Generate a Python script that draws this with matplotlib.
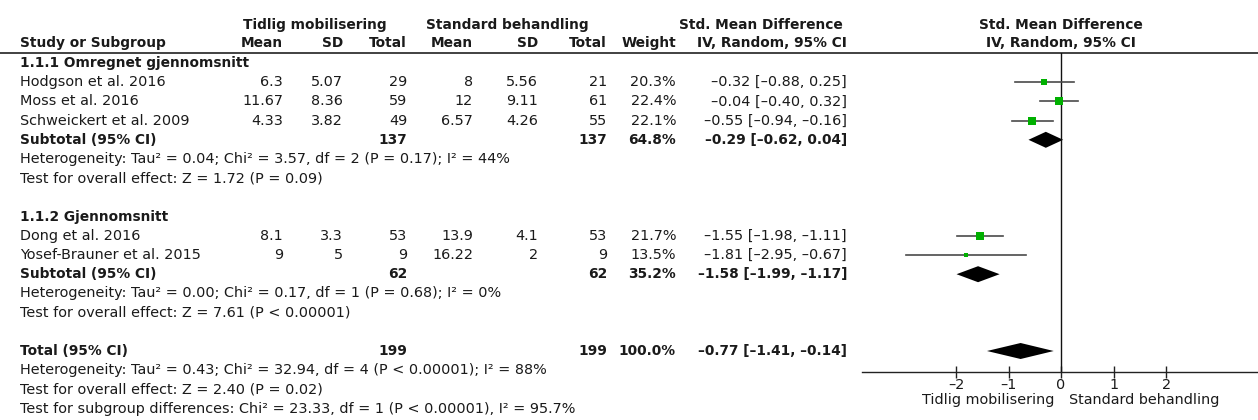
import matplotlib
matplotlib.use("Agg")
import matplotlib.pyplot as plt

# study level data
study = ["Hodgson et al. 2016", "Moss et al. 2016", "Schweickert et al. 2009",
         "Dong et al. 2016", "Yosef-Brauner et al. 2015"]
group = [0, 0, 0, 1, 1]
mean_e = [6.3, 11.67, 4.33, 8.1, 9]
sd_e = [5.07, 8.36, 3.82, 3.3, 5]
n_e = [29, 59, 49, 53, 9]
mean_c = [8, 12, 6.57, 13.9, 16.22]
sd_c = [5.56, 9.11, 4.26, 4.1, 2]
n_c = [21, 61, 55, 53, 9]
weight = [20.3, 22.4, 22.1, 21.7, 13.5]
smd = [-0.32, -0.04, -0.55, -1.55, -1.81]
ci_lo = [-0.88, -0.40, -0.94, -1.98, -2.95]
ci_hi = [0.25, 0.32, -0.16, -1.11, -0.67]

# subgroups
sub_name = ["1.1.1 Omregnet gjennomsnitt", "1.1.2 Gjennomsnitt"]
sub_n_e = [137, 62]
sub_n_c = [137, 62]
sub_weight = [64.8, 35.2]
sub_smd = [-0.29, -1.58]
sub_lo = [-0.62, -1.99]
sub_hi = [0.04, -1.17]
sub_het = ["Heterogeneity: Tau² = 0.04; Chi² = 3.57, df = 2 (P = 0.17); I² = 44%",
           "Heterogeneity: Tau² = 0.00; Chi² = 0.17, df = 1 (P = 0.68); I² = 0%"]
sub_test = ["Test for overall effect: Z = 1.72 (P = 0.09)",
            "Test for overall effect: Z = 7.61 (P < 0.00001)"]

# overall
tot_n_e = 199
tot_n_c = 199
tot_weight = 100.0
tot_smd = -0.77
tot_lo = -1.41
tot_hi = -0.14
tot_notes = ["Heterogeneity: Tau² = 0.43; Chi² = 32.94, df = 4 (P < 0.00001); I² = 88%",
             "Test for overall effect: Z = 2.40 (P = 0.02)",
             "Test for subgroup differences: Chi² = 23.33, df = 1 (P < 0.00001), I² = 95.7%"]

ticks = [-2, -1, 0, 1, 2]
left_label = "Tidlig mobilisering"
right_label = "Standard behandling"

# layout (pixels)
W, H = 1258, 420
FS = 10.4
FS_B = 9.9
TXT = "#1a1a1a"
col_x = [283, 343, 407, 473, 538, 607, 676, 847]
x_name = 20
y0, pitch = 63, 19.2
y_head1, y_head2, y_rule = 25, 43, 53
y_axis = 372
ax_left, ax_right = 862, 1258
xlim = (-3.79, 3.75)


def dash(s):
    return s.replace("-", "\u2013")


def ci_text(m, lo, hi):
    return dash(f"{m:.2f} [{lo:.2f}, {hi:.2f}]")


fig = plt.figure(figsize=(W / 100, H / 100), dpi=100)
tab = fig.add_axes([0, 0, 1, 1])
tab.set_xlim(0, W)
tab.set_ylim(H, 0)
tab.axis("off")

ax = fig.add_axes([ax_left / W, (H - y_axis) / H, (ax_right - ax_left) / W,
                   (y_axis - y_rule) / H])
ax.set_xlim(*xlim)
ax.set_ylim(y_axis, y_rule)
ax.patch.set_alpha(0)
for s in ["top", "right", "left"]:
    ax.spines[s].set_visible(False)
ax.spines["bottom"].set_linewidth(1.0)
ax.spines["bottom"].set_color("#222")
ax.set_yticks([])
ax.set_xticks(ticks)
ax.set_xticklabels([dash(str(t)) for t in ticks], fontsize=FS, color=TXT)
ax.tick_params(axis="x", direction="inout", length=8, width=1, pad=0, color="#222")
ax.axvline(0, color="#111", lw=1.0)
ax.text(-0.12, -0.088, left_label, transform=ax.get_xaxis_transform(),
        ha="right", va="center", fontsize=FS, color=TXT)
ax.text(0.15, -0.088, right_label, transform=ax.get_xaxis_transform(),
        ha="left", va="center", fontsize=FS, color=TXT)


def put(x, y, s, ha="right", bold=False):
    tab.text(x, y, s, ha=ha, va="center", fontsize=FS_B if bold else FS,
             color=TXT, fontweight="bold" if bold else "normal")


def diamond(y, m, lo, hi, h=8):
    ax.fill([lo, m, hi, m], [y, y - h, y, y + h], color="black", lw=0)


# header
put(315, y_head1, "Tidlig mobilisering", ha="center", bold=True)
put(507, y_head1, "Standard behandling", ha="center", bold=True)
put(843, y_head1, "Std. Mean Difference", bold=True)
put(1061, y_head1, "Std. Mean Difference", ha="center", bold=True)
put(x_name, y_head2, "Study or Subgroup", ha="left", bold=True)
for x, s in zip(col_x, ["Mean", "SD", "Total", "Mean", "SD", "Total", "Weight",
                        "IV, Random, 95% CI"]):
    put(x, y_head2, s, bold=True)
put(1061, y_head2, "IV, Random, 95% CI", ha="center", bold=True)
tab.axhline(y_rule, color="#333", lw=1.3)

row = 0
for g in range(len(sub_name)):
    y = y0 + row * pitch
    put(x_name, y, sub_name[g], ha="left", bold=True)
    row += 1
    for i in range(len(study)):
        if group[i] != g:
            continue
        y = y0 + row * pitch
        put(x_name, y, study[i], ha="left")
        vals = [f"{mean_e[i]:g}", f"{sd_e[i]:g}", str(n_e[i]),
                f"{mean_c[i]:g}", f"{sd_c[i]:g}", str(n_c[i]),
                f"{weight[i]:.1f}%", ci_text(smd[i], ci_lo[i], ci_hi[i])]
        for x, s in zip(col_x, vals):
            put(x, y, s)
        ax.plot([ci_lo[i], ci_hi[i]], [y, y], color="#4a4a4a", lw=1.2)
        ax.plot(smd[i], y, marker="s", color="#00b000",
                markersize=weight[i] * 0.34 * 0.72, markeredgewidth=0)
        row += 1
    y = y0 + row * pitch
    put(x_name, y, "Subtotal (95% CI)", ha="left", bold=True)
    put(col_x[2], y, str(sub_n_e[g]), bold=True)
    put(col_x[5], y, str(sub_n_c[g]), bold=True)
    put(col_x[6], y, f"{sub_weight[g]:.1f}%", bold=True)
    put(col_x[7], y, ci_text(sub_smd[g], sub_lo[g], sub_hi[g]), bold=True)
    diamond(y, sub_smd[g], sub_lo[g], sub_hi[g])
    row += 1
    put(x_name, y0 + row * pitch, sub_het[g], ha="left")
    row += 1
    put(x_name, y0 + row * pitch, sub_test[g], ha="left")
    row += 2

y = y0 + row * pitch
put(x_name, y, "Total (95% CI)", ha="left", bold=True)
put(col_x[2], y, str(tot_n_e), bold=True)
put(col_x[5], y, str(tot_n_c), bold=True)
put(col_x[6], y, f"{tot_weight:.1f}%", bold=True)
put(col_x[7], y, ci_text(tot_smd, tot_lo, tot_hi), bold=True)
diamond(y, tot_smd, tot_lo, tot_hi)
for note in tot_notes:
    row += 1
    put(x_name, y0 + row * pitch, note, ha="left")

fig.savefig("out.png", dpi=100, facecolor="white")
